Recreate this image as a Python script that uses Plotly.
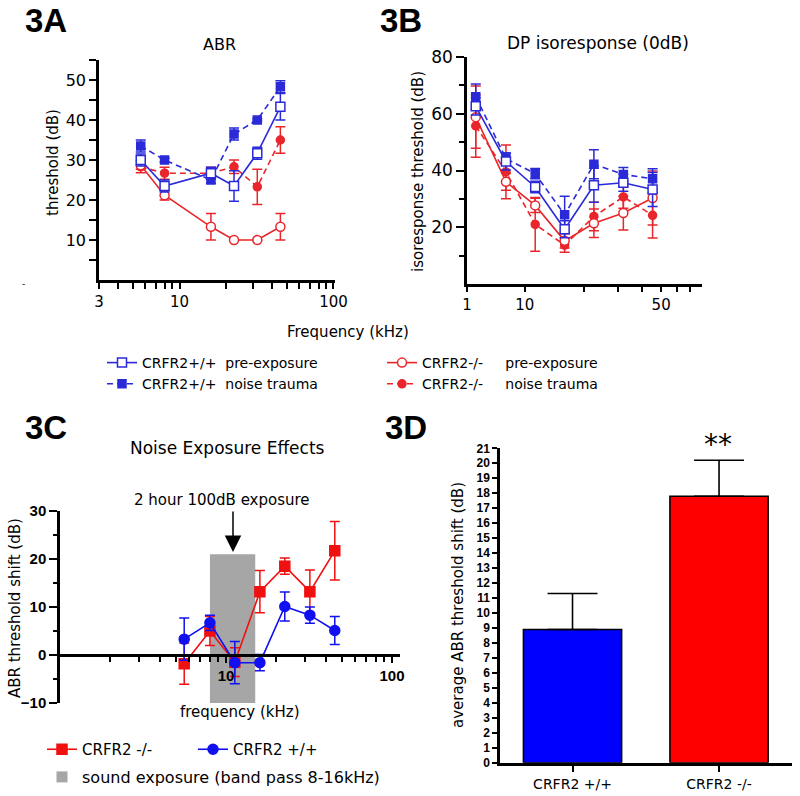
import plotly.graph_objects as go

W, H = 800, 796
FONT = "DejaVu Sans"
BOLD = "Liberation Sans"

# ---------------- 3A  ABR thresholds (dB) ----------------
abr_freq = [5.6, 8, 16, 22.6, 32, 45.2]
abr_wt_pre = [30.0, 23.5, 26.7, 23.5, 31.7, 43.3]
abr_wt_pre_err = [1.5, 1.5, 1.5, 3.8, 1.5, 3.3]
abr_wt_noise = [33.5, 30.0, 25.0, 36.5, 40.0, 48.3]
abr_wt_noise_err = [1.5, 0.5, 0.8, 1.5, 0.3, 1.5]
abr_ko_pre = [28.7, 21.2, 13.3, 10.0, 10.0, 13.3]
abr_ko_pre_err = [1.0, 1.2, 3.3, 0.0, 0.0, 3.3]
abr_ko_noise = [28.3, 26.7, 26.7, 28.3, 23.3, 35.0]
abr_ko_noise_err = [1.5, 1.5, 1.5, 1.7, 4.4, 3.3]

# ---------------- 3B  DP isoresponse threshold (dB) ----------------
dp_freq = [5.6, 8, 11.3, 16, 22.6, 32, 45.2]
dp_wt_pre = [62.6, 43.2, 34.2, 19.3, 34.8, 35.7, 33.3]
dp_wt_pre_err = [3.0, 3.0, 2.0, 3.0, 6.0, 3.0, 6.0]
dp_wt_noise = [66.0, 44.2, 38.9, 24.4, 42.2, 38.6, 37.1]
dp_wt_noise_err = [4.5, 2.0, 1.8, 6.5, 5.1, 2.5, 3.5]
dp_ko_pre = [58.8, 36.0, 27.7, 15.2, 21.4, 25.0, 30.3]
dp_ko_pre_err = [11.0, 3.0, 2.5, 2.5, 5.0, 6.0, 9.5]
dp_ko_noise = [55.7, 39.5, 21.0, 13.7, 23.8, 30.7, 24.2]
dp_ko_noise_err = [11.0, 9.5, 9.5, 2.5, 5.0, 4.0, 8.0]

# ---------------- 3C  threshold shift (dB) ----------------
shift_freq = [5.6, 8, 11.3, 16, 22.6, 32, 45.2]
shift_ko = [-1.8, 5.0, -1.5, 13.2, 18.5, 13.2, 21.7]
shift_ko_err = [4.3, 3.0, 3.0, 4.4, 1.7, 4.5, 6.1]
shift_wt = [3.3, 6.7, -1.6, -1.6, 10.1, 8.3, 5.1]
shift_wt_err = [4.4, 1.6, 4.4, 1.7, 3.0, 1.7, 2.9]
exposure_band = [8, 15]
exposure_top = 21

# ---------------- 3D  average shift ----------------
bar_groups = ["CRFR2 +/+", "CRFR2 -/-"]
bar_shift = [8.9, 17.8]
bar_shift_err = [2.4, 2.4]

BLUE, RED = "#2a2ad8", "#e8262b"
BLUE_C, RED_C = "#1010f0", "#f01010"


def fx(p):
    return p / W


def fy(p):
    return 1 - p / H


def series(x, y, err, color, symbol, dash, name, xa, ya, fill=None,
           legend="legend", show=False, rank=1, size=9):
    return go.Scatter(
        x=x, y=y, mode="lines+markers", name=name, xaxis=xa, yaxis=ya,
        line=dict(color=color, width=1.6, dash=dash),
        marker=dict(symbol=symbol, size=size, color=fill or color,
                    line=dict(color=color, width=1.5)),
        error_y=dict(type="data", array=err, color=color, thickness=1.5, width=5),
        showlegend=show, legend=legend, legendrank=rank)


DASH = "6px,4px"
fig = go.Figure()

# 3A
fig.add_trace(series(abr_freq, abr_ko_noise, abr_ko_noise_err, RED, "circle", DASH,
                     "CRFR2-/-\u00a0\u00a0\u00a0\u00a0\u00a0noise trauma", "x", "y",
                     show=True, rank=4, size=8))
fig.add_trace(series(abr_freq, abr_ko_pre, abr_ko_pre_err, RED, "circle", None,
                     "CRFR2-/-\u00a0\u00a0\u00a0\u00a0\u00a0pre-exposure", "x", "y",
                     fill="white", show=True, rank=2))
fig.add_trace(series(abr_freq, abr_wt_noise, abr_wt_noise_err, BLUE, "square", DASH,
                     "CRFR2+/+\u00a0\u00a0noise trauma", "x", "y",
                     show=True, rank=3, size=8))
fig.add_trace(series(abr_freq, abr_wt_pre, abr_wt_pre_err, BLUE, "square", None,
                     "CRFR2+/+\u00a0\u00a0pre-exposure", "x", "y",
                     fill="white", show=True, rank=1))

# 3B
fig.add_trace(series(dp_freq, dp_ko_noise, dp_ko_noise_err, RED, "circle", DASH,
                     "ko noise", "x2", "y2", size=8))
fig.add_trace(series(dp_freq, dp_ko_pre, dp_ko_pre_err, RED, "circle", None,
                     "ko pre", "x2", "y2", fill="white"))
fig.add_trace(series(dp_freq, dp_wt_noise, dp_wt_noise_err, BLUE, "square", DASH,
                     "wt noise", "x2", "y2", size=8))
fig.add_trace(series(dp_freq, dp_wt_pre, dp_wt_pre_err, BLUE, "square", None,
                     "wt pre", "x2", "y2", fill="white"))

# 3C
fig.add_trace(series(shift_freq, shift_ko, shift_ko_err, RED_C, "square", None,
                     "CRFR2 -/-", "x3", "y3", legend="legend2", show=True, rank=1, size=10))
fig.add_trace(series(shift_freq, shift_wt, shift_wt_err, BLUE_C, "circle", None,
                     "CRFR2 +/+", "x3", "y3", legend="legend2", show=True, rank=2, size=10))
fig.add_trace(go.Scatter(x=[None], y=[None], mode="markers", xaxis="x3", yaxis="y3",
                         name="sound exposure (band pass 8-16kHz)",
                         marker=dict(symbol="square", size=11, color="#a6a6a6"),
                         legend="legend3", showlegend=True))

# 3D
fig.add_trace(go.Bar(
    x=bar_groups, y=bar_shift, xaxis="x4", yaxis="y4", width=0.67,
    marker=dict(color=["#0000ff", "#ff0000"], line=dict(color="black", width=1.6)),
    error_y=dict(type="data", array=bar_shift_err, arrayminus=[0, 0], symmetric=False,
                 color="black", thickness=1.6, width=25),
    showlegend=False))

base = dict(showline=True, linecolor="black", linewidth=2.5, ticks="outside",
            tickcolor="black", tickwidth=2, showgrid=False, zeroline=False)
tick_font = dict(family=FONT, size=16, color="black")
bold_font = dict(family=BOLD, size=15, color="black", weight="bold")
minor_tick = dict(ticks="outside", tickwidth=2, tickcolor="black")

fig.update_layout(
    width=W, height=H, margin=dict(l=0, r=0, t=0, b=0, autoexpand=False),
    paper_bgcolor="white", plot_bgcolor="rgba(0,0,0,0)",
    xaxis=dict(base, type="log", domain=[fx(99), fx(335)], range=[0.4771, 2.01],
               anchor="y", tickvals=[3, 10, 100], ticktext=["3", "10", "100"],
               ticklen=6, tickfont=dict(tick_font, size=15),
               minor=dict(minor_tick, ticklen=6,
                          tickvals=[4, 5, 6, 7, 8, 9, 20, 30, 40, 50, 60, 70, 80, 90])),
    yaxis=dict(base, domain=[fy(280), fy(60)], range=[0, 55], anchor="x",
               tickvals=[10, 20, 30, 40, 50], ticklen=7, tickfont=tick_font,
               minor=dict(minor_tick, ticklen=7, tickvals=[5, 15, 25, 35, 45, 55])),
    xaxis2=dict(base, type="log", domain=[fx(467), fx(702)], range=[0.7033, 1.9085],
                anchor="y2", tickvals=[5.05, 10, 50], ticktext=["1", "10", "50"],
                ticklen=5, tickfont=dict(tick_font, size=15),
                minor=dict(minor_tick, ticklen=5, tickvals=[20, 30, 40, 60, 70])),
    yaxis2=dict(base, domain=[fy(284), fy(57)], range=[0, 80], anchor="x2",
                tickvals=[20, 40, 60, 80], ticklen=8, tickfont=dict(tick_font, size=17),
                minor=dict(minor_tick, ticklen=5, tickvals=[10, 30, 50, 70])),
    xaxis3=dict(base, type="log", domain=[fx(60), fx(400)], range=[0, 2.048],
                anchor="free", position=fy(655), tickvals=[10, 100],
                ticktext=["10", "100"], ticklen=6, tickfont=bold_font,
                minor=dict(minor_tick, ticklen=5,
                           tickvals=[2, 3, 4, 5, 6, 7, 8, 9, 20, 30, 40, 50, 60, 70, 80, 90])),
    yaxis3=dict(base, domain=[fy(703), fy(511)], range=[-10, 30], anchor="x3",
                tickvals=[-10, 0, 10, 20, 30], ticklen=8, tickfont=bold_font,
                minor=dict(minor_tick, ticklen=4, tickvals=[-5, 5, 15, 25])),
    xaxis4=dict(base, domain=[fx(500), fx(792)], range=[-0.495, 1.498], anchor="y4",
                ticklen=7, tickfont=dict(family=FONT, size=14, color="black")),
    yaxis4=dict(base, domain=[fy(762.7), fy(448.3)], range=[0, 21], anchor="x4",
                dtick=1, ticklen=5, tickfont=dict(family=BOLD, size=12, color="black",
                                                  weight="bold")),
    legend=dict(orientation="h", x=fx(102), y=fy(347), xanchor="left", yanchor="top",
                entrywidth=235, entrywidthmode="pixels", bgcolor="rgba(0,0,0,0)",
                font=dict(family=FONT, size=14, color="black"), itemwidth=30),
    legend2=dict(orientation="h", x=fx(42), y=fy(733), xanchor="left", yanchor="top",
                 entrywidth=106, entrywidthmode="pixels", bgcolor="rgba(0,0,0,0)",
                 font=dict(family=FONT, size=15, color="black"), itemwidth=30),
    legend3=dict(orientation="h", x=fx(42), y=fy(760), xanchor="left", yanchor="top",
                 bgcolor="rgba(0,0,0,0)",
                 font=dict(family=FONT, size=16, color="black"), itemwidth=30),
)

# grey exposure band in 3C
fig.add_shape(type="rect", xref="x3", yref="y3", x0=exposure_band[0], x1=exposure_band[1],
              y0=-10, y1=exposure_top, fillcolor="#a6a6a6", line=dict(width=0),
              layer="below")


def label(text, x, y, size=15, angle=0, family=FONT, bold=False):
    fig.add_annotation(text=f"<b>{text}</b>" if bold else text, x=fx(x), y=fy(y),
                       xref="paper", yref="paper", showarrow=False, textangle=angle,
                       xanchor="center", yanchor="middle",
                       font=dict(family=family, size=size, color="black"))


label("3A", 46, 20, 33, family=BOLD, bold=True)
label("3B", 401, 20, 33, family=BOLD, bold=True)
label("3C", 46, 427, 33, family=BOLD, bold=True)
label("3D", 406, 427, 33, family=BOLD, bold=True)
label("ABR", 219, 45, 16)
label("DP isoresponse (0dB)", 598, 43, 17)
label("threshold (dB)", 53, 163, 15, angle=-90)
label("isoresponse threshold (dB)", 418, 172, 15, angle=-90)
label("Frequency (kHz)", 348, 332, 15)
label("Noise Exposure Effects", 228, 448, 17)
label("2 hour 100dB exposure", 222, 500, 15)
label("ABR threshold shift (dB)", 15, 608, 15, angle=-90)
label("frequency (kHz)", 240, 712, 15)
label("average ABR threshold shift (dB)", 458, 605, 15, angle=-90)
label("**", 718, 445, 28)
label("-", 23, 284, 9)

fig.add_annotation(text="", x=fx(233), y=fy(552), xref="paper", yref="paper",
                   showarrow=True, ax=0, ay=-42, axref="pixel", ayref="pixel",
                   arrowhead=2, arrowsize=2.2, arrowwidth=1.5, arrowcolor="black")

# drop the default 8px page margin so the 800x796 figure fills the window
fig.write_html("out.html", config={"displayModeBar": False},
               post_script="document.body.style.margin = '0';")
